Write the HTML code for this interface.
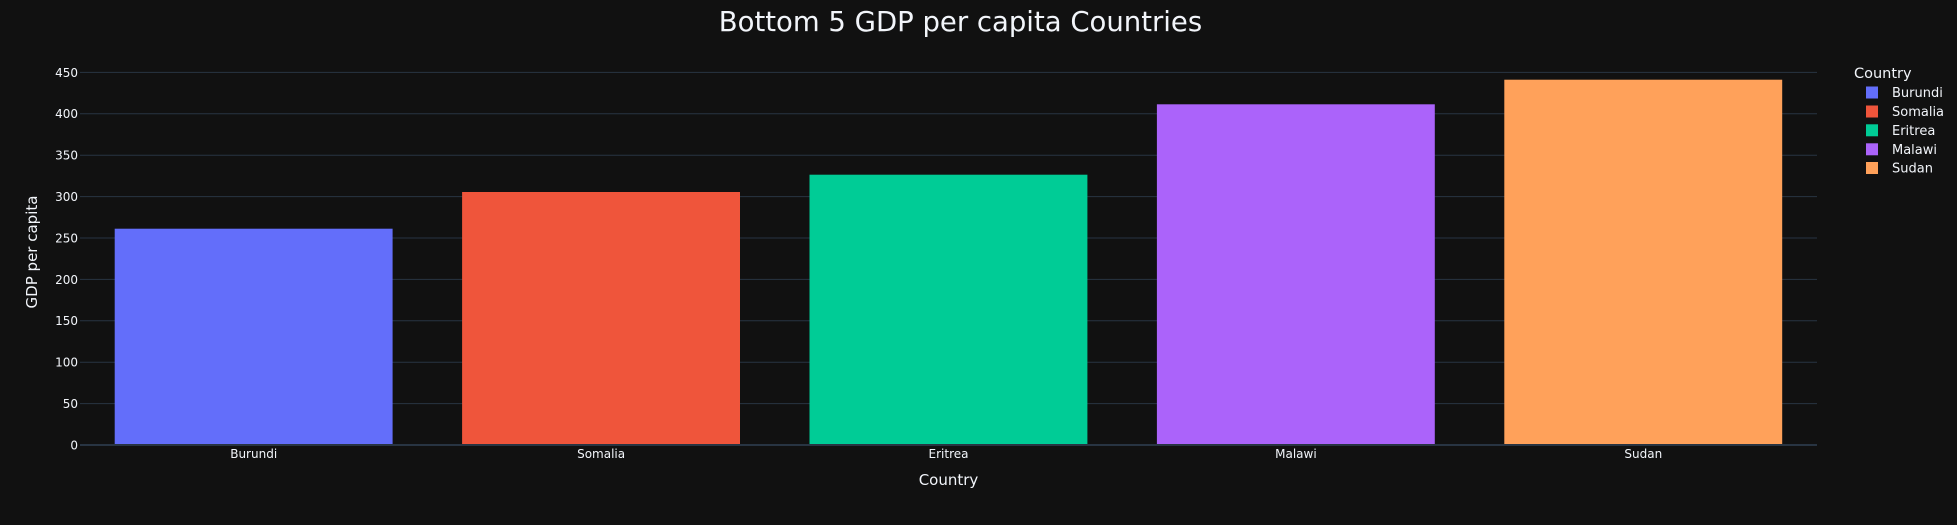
<!DOCTYPE html>
<html><head><meta charset="utf-8"><style>
html,body{margin:0;padding:0;background:#111111;}
svg{display:block;}
text{font-family:"DejaVu Sans","Liberation Sans",sans-serif;fill:#f2f5fa;}
</style></head><body>
<svg width="1957" height="525" viewBox="0 0 1957 525" xmlns="http://www.w3.org/2000/svg">
<rect width="1957" height="525" fill="#111111"/>
<g stroke="#283442" stroke-width="1">
<line x1="80" x2="1817" y1="403.6" y2="403.6"/>
<line x1="80" x2="1817" y1="362.2" y2="362.2"/>
<line x1="80" x2="1817" y1="320.8" y2="320.8"/>
<line x1="80" x2="1817" y1="279.4" y2="279.4"/>
<line x1="80" x2="1817" y1="238" y2="238"/>
<line x1="80" x2="1817" y1="196.6" y2="196.6"/>
<line x1="80" x2="1817" y1="155.2" y2="155.2"/>
<line x1="80" x2="1817" y1="113.8" y2="113.8"/>
<line x1="80" x2="1817" y1="72.4" y2="72.4"/>
</g>
<rect x="114.7" y="228.7" width="277.9" height="216.3" fill="#636efa"/>
<rect x="462.1" y="192" width="277.9" height="253" fill="#ef553b"/>
<rect x="809.5" y="174.7" width="277.9" height="270.3" fill="#00cc96"/>
<rect x="1156.9" y="104.3" width="277.9" height="340.7" fill="#ab63fa"/>
<rect x="1504.3" y="79.7" width="277.9" height="365.3" fill="#ffa15a"/>
<line x1="80" x2="1817" y1="445" y2="445" stroke="#283442" stroke-width="2"/>
<g font-size="12" text-anchor="end">
<text x="78" y="449.5">0</text>
<text x="78" y="408">50</text>
<text x="78" y="366.6">100</text>
<text x="78" y="325.2">150</text>
<text x="78" y="283.8">200</text>
<text x="78" y="242.4">250</text>
<text x="78" y="201">300</text>
<text x="78" y="159.6">350</text>
<text x="78" y="118.2">400</text>
<text x="78" y="76.8">450</text>
</g>
<g font-size="12" text-anchor="middle">
<text x="253.7" y="458">Burundi</text>
<text x="601.1" y="458">Somalia</text>
<text x="948.5" y="458">Eritrea</text>
<text x="1295.9" y="458">Malawi</text>
<text x="1643.3" y="458">Sudan</text>
</g>
<text x="948.5" y="485" font-size="15" text-anchor="middle">Country</text>
<text transform="translate(37,252) rotate(-90)" font-size="15" text-anchor="middle">GDP per capita</text>
<text x="960.5" y="31" font-size="27.5" text-anchor="middle">Bottom 5 GDP per capita Countries</text>
<text x="1854" y="78" font-size="14.5">Country</text>
<g font-size="13">
<rect x="1866" y="86.5" width="12" height="12" fill="#636efa"/><text x="1892" y="97">Burundi</text>
<rect x="1866" y="105.5" width="12" height="12" fill="#ef553b"/><text x="1892" y="116">Somalia</text>
<rect x="1866" y="124.3" width="12" height="12" fill="#00cc96"/><text x="1892" y="134.8">Eritrea</text>
<rect x="1866" y="143.3" width="12" height="12" fill="#ab63fa"/><text x="1892" y="153.8">Malawi</text>
<rect x="1866" y="162" width="12" height="12" fill="#ffa15a"/><text x="1892" y="172.5">Sudan</text>
</g>
</svg>
</body></html>
